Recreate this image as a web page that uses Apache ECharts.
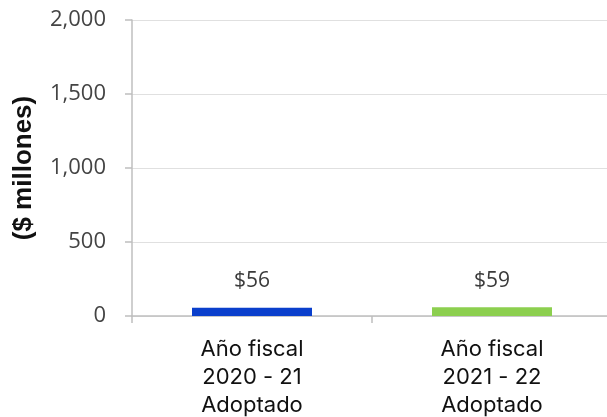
<!DOCTYPE html>
<html><head><meta charset="utf-8">
<script src="https://cdn.jsdelivr.net/npm/echarts@6/dist/echarts.min.js"></script>
<style>html,body{margin:0;padding:0;background:#fff}#c{width:607px;height:417px}</style>
</head><body><div id="c"></div>
<script>
const categories = ['Año fiscal\n2020 - 21\nAdoptado', 'Año fiscal\n2021 - 22\nAdoptado'];
const values = [56, 59];
const valueLabels = ['$56', '$59'];
const barColors = ['#0a3fcc', '#8ccf4f'];
const yTicks = [0, 500, 1000, 1500, 2000];

const chart = echarts.init(document.getElementById('c'));
chart.setOption({
  animation: false,
  grid: { left: 132, top: 20, width: 480, height: 296, containLabel: false, outerBoundsMode: 'none' },
  xAxis: {
    type: 'category',
    data: categories,
    axisLine: { lineStyle: { color: '#bfbfbf', width: 1.5 } },
    axisTick: { show: true, length: 7, lineStyle: { color: '#bfbfbf', width: 1.5 } },
    axisLabel: { color: '#111', fontFamily: 'Inter', fontSize: 22, lineHeight: 28, margin: 19, interval: 0 }
  },
  yAxis: {
    type: 'value',
    min: 0, max: 2000, interval: 500,
    name: '($ millones)',
    nameLocation: 'middle',
    nameGap: 95,
    nameRotate: 90,
    nameTextStyle: { color: '#111', fontFamily: 'Liberation Sans', fontWeight: 'bold', fontSize: 26 },
    axisLine: { show: true, lineStyle: { color: '#bfbfbf', width: 1.5 } },
    axisTick: { show: true, length: 7, lineStyle: { color: '#bfbfbf', width: 1.5 } },
    axisLabel: {
      color: '#444', fontFamily: 'Open Sans', fontSize: 22, margin: 26,
      formatter: v => yTicks.includes(v) ? v.toLocaleString('en-US') : ''
    },
    splitLine: { lineStyle: { color: '#e0e0e0', width: 1 } }
  },
  series: [{
    type: 'bar',
    barWidth: '50%',
    data: values.map((v, i) => ({ value: v, itemStyle: { color: barColors[i] } })),
    label: {
      show: true, position: 'top', distance: 16,
      color: '#3a3a3a', fontFamily: 'Open Sans', fontSize: 21,
      formatter: p => valueLabels[p.dataIndex]
    }
  }]
});
</script></body></html>
